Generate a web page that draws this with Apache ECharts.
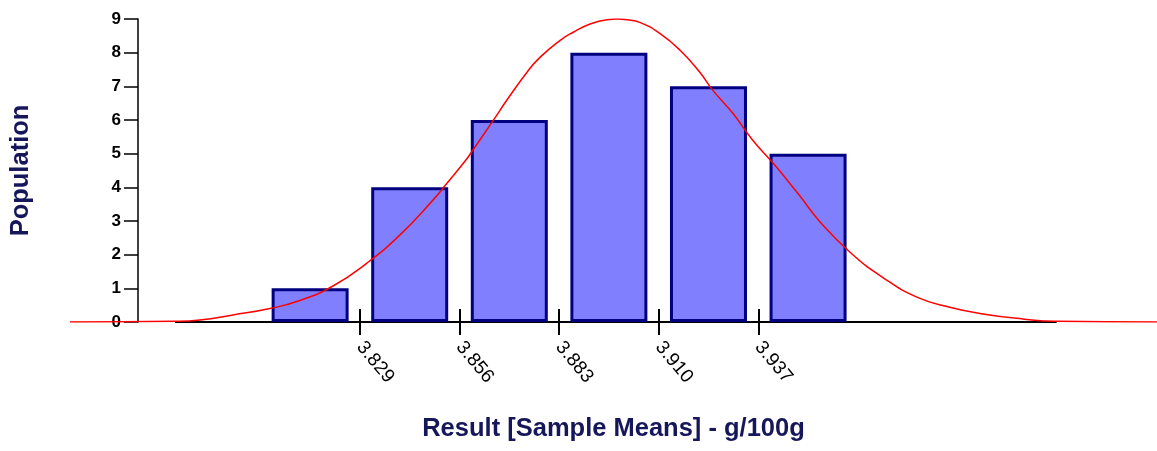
<!DOCTYPE html>
<html>
<head>
<meta charset="utf-8">
<script src="https://cdn.jsdelivr.net/npm/echarts@6/dist/echarts.min.js"></script>
<style>
  html, body { margin: 0; padding: 0; background: #fff; }
  #chart { width: 1157px; height: 451px; }
</style>
</head>
<body>
<div id="chart"></div>
<script>
// histogram bins (centre of each bin) and counts
const binCenters = [3.8155, 3.8425, 3.8695, 3.8965, 3.9235, 3.9505];
const counts = [1, 4, 6, 8, 7, 5];

// tick marks / labels under the x axis
const tickValues = [3.829, 3.856, 3.883, 3.910, 3.937];

// fitted normal curve
const curveX = [3.7504, 3.7789, 3.7856, 3.7946, 3.8046, 3.8127, 3.8217, 3.8309, 3.8398, 3.8488,
  3.8526, 3.8580, 3.8596, 3.8651, 3.8689, 3.8743, 3.8778, 3.8832, 3.8867, 3.8914, 3.8960,
  3.8987, 3.9014, 3.9049, 3.9103, 3.9158, 3.9212, 3.9247, 3.9301, 3.9355, 3.9410, 3.9448,
  3.9483, 3.9537, 3.9618, 3.9708, 3.9800, 3.9889, 3.9979, 4.0087, 4.0179, 4.0451];
const curveY = [0, 0.02, 0.06, 0.21, 0.40, 0.64, 1.07, 1.75, 2.58, 3.62,
  4.12, 4.85, 5.10, 5.98, 6.60, 7.42, 7.86, 8.36, 8.60, 8.85, 8.98,
  9.0, 8.98, 8.90, 8.57, 8.07, 7.41, 6.88, 6.20, 5.40, 4.72, 4.22,
  3.74, 2.98, 2.08, 1.32, 0.74, 0.44, 0.24, 0.09, 0.02, 0];

// x extent of the black axis line
const axisSpan = [3.7789, 4.0179];

const xMin = 3.7504, xMax = 4.0451;
const navy = '#16165a';

const chart = echarts.init(document.getElementById('chart'));

chart.setOption({
  animation: false,
  backgroundColor: '#fff',
  grid: { left: 70, right: 0, top: 19, bottom: 129 },
  xAxis: [
    {
      type: 'value', min: xMin, max: xMax,
      axisLine: { show: false },
      splitLine: { show: false },
      axisTick: { show: true, customValues: tickValues, length: 13, lineStyle: { color: '#000', width: 2 } },
      axisLabel: {
        customValues: tickValues, rotate: -50, margin: 22,
        color: '#000', fontSize: 19, fontFamily: 'Liberation Sans',
        formatter: v => v.toFixed(3)
      },
      name: 'Result [Sample Means] - g/100g',
      nameLocation: 'middle', nameGap: 94,
      nameTextStyle: { color: navy, fontSize: 25.5, fontWeight: 'bold', fontFamily: 'Liberation Sans' }
    },
    {
      type: 'value', min: xMin, max: xMax, position: 'bottom',
      axisLine: { show: false },
      splitLine: { show: false },
      axisTick: { show: true, inside: true, customValues: tickValues, length: 13, lineStyle: { color: '#000', width: 2 } },
      axisLabel: { show: false }
    }
  ],
  yAxis: {
    type: 'value', min: 0, max: 9, interval: 1, offset: -68,
    axisLine: { show: true, lineStyle: { color: '#000', width: 1.5 } },
    axisTick: { show: true, length: 14, lineStyle: { color: '#000', width: 1.5 } },
    splitLine: { show: false },
    axisLabel: { color: '#000', fontSize: 17, fontWeight: 'bold', fontFamily: 'Liberation Sans', margin: 17 },
    name: 'Population', nameLocation: 'middle', nameGap: 104, nameRotate: 90,
    nameTextStyle: { color: navy, fontSize: 25.5, fontWeight: 'bold', fontFamily: 'Liberation Sans' }
  },
  series: [
    {
      type: 'line', z: 1, symbol: 'none', silent: true,
      data: axisSpan.map(x => [x, 0]),
      lineStyle: { color: '#000', width: 2 }
    },
    {
      type: 'bar', z: 2, barWidth: 77,
      data: binCenters.map((x, i) => [x, counts[i]]),
      itemStyle: { color: '#8080ff', borderColor: '#000080', borderWidth: 3 }
    },
    {
      type: 'line', z: 3, symbol: 'none', smooth: true,
      data: curveX.map((x, i) => [x, curveY[i]]),
      lineStyle: { color: '#ff0000', width: 1.5 }
    }
  ]
});
</script>
</body>
</html>
